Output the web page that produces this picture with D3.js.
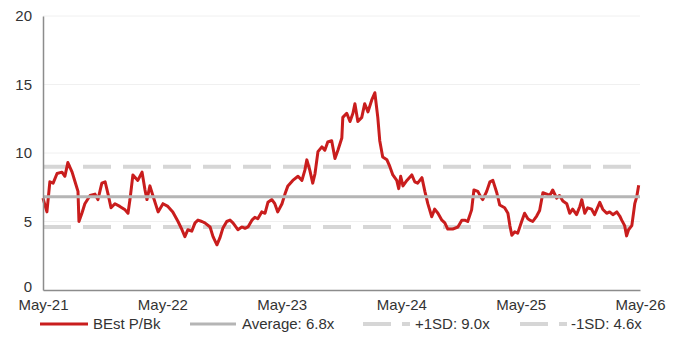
<!DOCTYPE html>
<html>
<head>
<meta charset="utf-8">
<script src="https://cdn.jsdelivr.net/npm/d3@7"></script>
<style>
  html, body { margin: 0; padding: 0; background: #fff; }
  svg { display: block; font-family: "Liberation Sans", Arial, sans-serif; }
</style>
</head>
<body>
<svg id="chart" width="680" height="347"></svg>
<script>
// ---- data ----
const dates = [
  "2021-05-01","2021-05-07","2021-05-13","2021-05-22","2021-06-01","2021-06-13","2021-06-28","2021-07-07","2021-07-16","2021-07-29",
  "2021-08-07","2021-08-16","2021-08-19","2021-08-28","2021-09-06","2021-09-22","2021-10-07","2021-10-16","2021-10-28","2021-11-07",
  "2021-11-16","2021-11-25","2021-12-07","2021-12-22","2022-01-07","2022-01-16","2022-01-22","2022-01-31","2022-02-15","2022-02-28",
  "2022-03-09","2022-03-15","2022-03-24","2022-04-02","2022-04-18","2022-05-03","2022-05-18","2022-06-02","2022-06-18","2022-06-30",
  "2022-07-09","2022-07-18","2022-07-30","2022-08-09","2022-08-18","2022-08-30","2022-09-08","2022-09-24","2022-10-03","2022-10-15",
  "2022-10-24","2022-11-02","2022-11-14","2022-11-24","2022-12-03","2022-12-18","2022-12-30","2023-01-09","2023-01-18","2023-01-30",
  "2023-02-08","2023-02-17","2023-03-01","2023-03-11","2023-03-20","2023-04-01","2023-04-10","2023-04-19","2023-05-02","2023-05-11",
  "2023-05-20","2023-06-04","2023-06-20","2023-07-02","2023-07-11","2023-07-17","2023-07-26","2023-08-04","2023-08-11","2023-08-20",
  "2023-09-01","2023-09-10","2023-09-19","2023-10-01","2023-10-11","2023-10-20","2023-11-01","2023-11-04","2023-11-16","2023-11-26",
  "2023-12-05","2023-12-11","2023-12-20","2024-01-01","2024-01-10","2024-01-20","2024-02-01","2024-02-10","2024-02-19","2024-02-25",
  "2024-03-05","2024-03-18","2024-03-27","2024-04-05","2024-04-17","2024-04-23","2024-04-29","2024-05-06","2024-05-18","2024-06-02",
  "2024-06-11","2024-06-20","2024-07-03","2024-07-12","2024-07-21","2024-08-02","2024-08-11","2024-08-21","2024-09-02","2024-09-11",
  "2024-09-20","2024-10-05","2024-10-21","2024-11-02","2024-11-11","2024-11-20","2024-12-02","2024-12-09","2024-12-21","2024-12-30",
  "2025-01-05","2025-01-17","2025-01-27","2025-02-05","2025-02-17","2025-02-26","2025-03-13","2025-03-23","2025-03-29","2025-04-04",
  "2025-04-13","2025-04-22","2025-05-04","2025-05-13","2025-05-23","2025-05-29","2025-06-07","2025-06-19","2025-06-28","2025-07-08",
  "2025-07-20","2025-07-29","2025-08-07","2025-08-19","2025-08-28","2025-09-07","2025-09-19","2025-09-28","2025-10-07","2025-10-19",
  "2025-10-29","2025-11-04","2025-11-13","2025-11-22","2025-12-04","2025-12-13","2025-12-29","2026-01-07","2026-01-19","2026-01-28",
  "2026-02-07","2026-02-19","2026-02-28","2026-03-06","2026-03-15","2026-03-21","2026-03-27","2026-04-06","2026-04-15","2026-04-21",
  "2026-04-27"
];
const pbValues = [
  6.7,6.2,5.7,7.9,7.8,8.5,8.6,8.3,9.3,8.6,
  7.9,7.2,5.0,5.6,6.3,6.9,7.0,6.6,7.8,7.9,
  7.0,6.0,6.3,6.1,5.85,5.6,6.6,8.4,8.0,8.6,
  7.3,6.6,7.6,6.9,5.7,6.3,6.1,5.7,5.0,4.4,
  3.9,4.4,4.3,4.9,5.1,5.0,4.9,4.6,3.9,3.3,
  3.8,4.5,5.0,5.1,4.9,4.4,4.6,4.5,4.6,5.1,
  5.3,5.2,5.7,5.6,6.4,6.6,6.3,5.7,6.3,7.0,
  7.6,8.0,8.3,8.0,8.75,9.5,8.75,7.8,8.5,10.1,
  10.45,10.2,10.8,10.9,9.6,10.2,11.1,12.6,12.9,12.3,
  12.9,13.6,12.3,12.6,13.6,13.0,13.9,14.4,12.6,10.9,
  9.7,9.5,9.0,8.4,8.0,7.4,8.3,7.6,8.0,8.4,
  7.9,7.8,8.2,7.2,6.3,5.35,5.9,5.6,5.1,4.9,
  4.45,4.45,4.6,5.1,5.1,5.0,5.85,7.3,7.2,6.8,
  6.6,7.2,7.9,8.0,7.1,6.2,6.0,5.6,4.7,4.0,
  4.25,4.15,5.0,5.6,5.2,5.1,5.0,5.4,5.8,7.1,
  7.0,6.9,7.3,6.7,6.9,6.5,6.3,5.6,5.9,5.5,
  6.1,6.6,5.6,6.0,5.9,5.5,6.4,5.9,5.6,5.7,
  5.5,5.7,5.4,5.1,4.7,3.95,4.4,4.7,6.3,6.8,
  7.65
];
const averageValue = 6.8;
const plusSdValue = 9.0;
const minusSdValue = 4.6;
const yTicks = [0, 5, 10, 15, 20];
const xTickDates = ["2021-05-01","2022-05-01","2023-05-01","2024-05-01","2025-05-01","2026-05-01"];
const xTickLabels = ["May-21","May-22","May-23","May-24","May-25","May-26"];
const legendLabels = ["BEst P/Bk","Average: 6.8x","+1SD: 9.0x","-1SD: 4.6x"];

// ---- setup ----
const parse = d3.timeParse("%Y-%m-%d");
const series = dates.map((d, i) => ({ date: parse(d), value: pbValues[i] }));

const svg = d3.select("#chart");
const margin = { left: 43, right: 40, top: 16, bottom: 57 };
const W = 680, H = 347;

const x = d3.scaleTime()
  .domain([parse(xTickDates[0]), parse(xTickDates[xTickDates.length - 1])])
  .range([margin.left, W - margin.right]);
const y = d3.scaleLinear().domain([0, 20]).range([H - margin.bottom, margin.top]);

const RED = "#c91d1d";
const AVG = "#b5b5b5";
const SD = "#d6d6d6";

// gridlines
svg.append("g")
  .selectAll("line")
  .data(yTicks.filter(t => t > 0))
  .join("line")
  .attr("x1", x.range()[0]).attr("x2", x.range()[1])
  .attr("y1", d => y(d)).attr("y2", d => y(d))
  .attr("stroke", "#f0f0f0").attr("stroke-width", 1);

// SD lines
[plusSdValue, minusSdValue].forEach(v => {
  svg.append("line")
    .attr("x1", x.range()[0]).attr("x2", x.range()[1])
    .attr("y1", y(v)).attr("y2", y(v))
    .attr("stroke", SD).attr("stroke-width", 4)
    .attr("stroke-dasharray", "28,12");
});

// main line
const line = d3.line().x(d => x(d.date)).y(d => y(d.value));
svg.append("path")
  .datum(series)
  .attr("fill", "none")
  .attr("stroke", RED)
  .attr("stroke-width", 3)
  .attr("stroke-linejoin", "round")
  .attr("d", line);

// average line
svg.append("line")
  .attr("x1", x.range()[0]).attr("x2", x.range()[1])
  .attr("y1", y(averageValue)).attr("y2", y(averageValue))
  .attr("stroke", AVG).attr("stroke-width", 3);

// y axis
const yAxis = d3.axisLeft(y).tickValues(yTicks).tickSize(0).tickPadding(11);
const gy = svg.append("g").attr("transform", `translate(${margin.left},0)`).call(yAxis);
gy.select(".domain").attr("stroke", "#8c8c8c").attr("stroke-width", 1.5);
gy.selectAll("text").attr("font-size", 15).attr("fill", "#333")
  .attr("font-family", "Liberation Sans, Arial, sans-serif");
gy.selectAll(".tick").filter(d => d === 0).select("text").attr("dy", "0.1em");

// x axis
const xAxis = d3.axisBottom(x)
  .tickValues(xTickDates.map(parse))
  .tickFormat((d, i) => xTickLabels[i])
  .tickSize(0).tickPadding(9);
const gx = svg.append("g").attr("transform", `translate(0,${y(0)})`).call(xAxis);
gx.select(".domain").attr("stroke", "#8c8c8c").attr("stroke-width", 1.5);
gx.selectAll("text").attr("font-size", 15).attr("fill", "#333")
  .attr("font-family", "Liberation Sans, Arial, sans-serif");

// legend
const legendY = 324;
const legendItems = [
  { x1: 40, x2: 88, tx: 93, stroke: RED, width: 3, dash: null },
  { x1: 190, x2: 236, tx: 242, stroke: AVG, width: 3, dash: null },
  { x1: 363, x2: 410, tx: 415, stroke: SD, width: 4, dash: "28,11" },
  { x1: 520, x2: 567, tx: 571, stroke: SD, width: 4, dash: "28,11" }
];
const lg = svg.append("g");
legendItems.forEach((it, i) => {
  const l = lg.append("line")
    .attr("x1", it.x1).attr("x2", it.x2)
    .attr("y1", legendY).attr("y2", legendY)
    .attr("stroke", it.stroke).attr("stroke-width", it.width);
  if (it.dash) l.attr("stroke-dasharray", it.dash);
  lg.append("text")
    .attr("x", it.tx).attr("y", legendY)
    .attr("dy", "0.35em")
    .attr("font-size", 15)
    .attr("fill", "#333")
    .text(legendLabels[i]);
});
</script>
</body>
</html>
